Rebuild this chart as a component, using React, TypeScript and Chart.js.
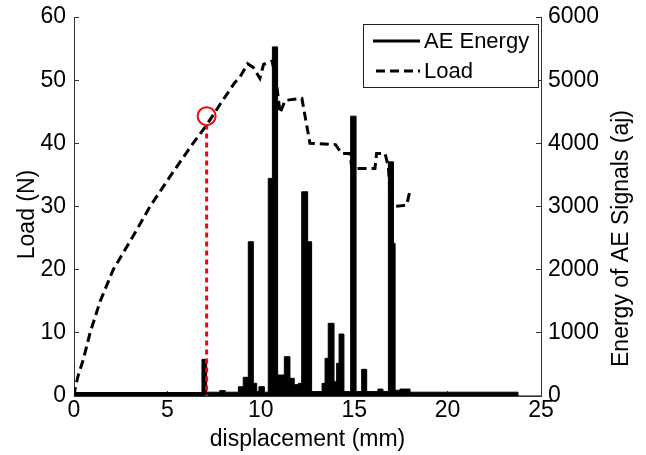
import React, { useEffect, useRef } from "react";
import { Chart, registerables } from "chart.js";

Chart.register(...registerables);

// ---- tick values ----
const xTicks = [0, 5, 10, 15, 20, 25];
const loadTicks = [0, 10, 20, 30, 40, 50, 60];
const energyTicks = [0, 1000, 2000, 3000, 4000, 5000, 6000];

// ---- titles / labels ----
const xTitle = "displacement (mm)";
const loadTitle = "Load (N)";
const energyTitle = "Energy of AE Signals (aj)";
const energyName = "AE Energy";
const loadName = "Load";

// ---- Load curve (displacement mm, load N) ----
const loadX = [0, 0.05, 0.2, 0.5, 0.86, 1.4, 2.1, 2.9, 3.3, 4.07, 5.2, 6.37, 7.1, 7.85, 8.6, 8.89, 9.3, 9.6, 9.95, 10.15, 10.6, 10.8, 11.03, 11.3, 12.2, 12.63, 14.0, 14.33, 14.78, 14.87, 16.11, 16.2, 16.65, 16.83, 16.92, 17.08, 17.81, 17.99];
const loadY = [0, 1, 3, 5.8, 10, 15, 20, 24, 26, 30, 35, 40, 42.9, 46.3, 49.6, 50.5, 52.6, 52.0, 50.3, 52.5, 53.0, 50.5, 44.8, 46.8, 47.1, 40.0, 39.8, 38.4, 38.4, 36.0, 36.0, 38.4, 38.4, 36.3, 32.3, 30.0, 30.2, 32.6];

// ---- AE energy histogram (start of each bin in mm, energy aj) ----
const energyX = [0, 0.1, 6.85, 7.1, 7.8, 8.1, 8.8, 9.06, 9.33, 9.6, 9.78, 9.9, 10.19, 10.4, 10.62, 10.9, 11.26, 11.56, 11.79, 12.01, 12.19, 12.51, 12.72, 13.28, 13.44, 13.61, 13.92, 14.06, 14.19, 14.45, 14.81, 15.1, 15.4, 15.67, 16.27, 16.54, 16.83, 17.1, 17.19, 17.45, 17.99, 23.77, 25];
const energyY = [30, 55, 580, 60, 85, 60, 147, 296, 2442, 200, 70, 147, 60, 3445, 5527, 332, 622, 280, 180, 200, 3233, 2442, 70, 200, 596, 1150, 226, 517, 981, 70, 4430, 70, 422, 70, 110, 70, 3707, 2416, 90, 110, 60, 0, 0];

// ---- red marker (circle on the load curve + vertical guide) ----
const markerX = [7.1];
const markerY = [44.3];
const guideX = [7.1, 7.1];
const guideY = [43, 0];

const FONT = '"Liberation Sans", Arial, Helvetica, sans-serif';
const AXIS_COLOR = "#333";
const TICK_SIZE = 23;

const legendBoxPlugin = {
  id: "legendBox",
  afterDatasetsDraw(chart: any) {
    const { ctx, chartArea } = chart;
    const w = 176;
    const h = 64;
    const right = chartArea.right - 2;
    const top = chartArea.top + 7;
    const left = right - w;
    ctx.save();
    ctx.fillStyle = "#fff";
    ctx.fillRect(left, top, w, h);
    ctx.strokeStyle = "#222";
    ctx.lineWidth = 1;
    ctx.setLineDash([]);
    ctx.strokeRect(left + 0.5, top + 0.5, w - 1, h - 1);
    const items = chart.data.datasets.filter((d: any) => d.inLegend);
    items.sort((a: any, b: any) => a.legendOrder - b.legendOrder);
    items.forEach((ds: any, i: number) => {
      const y = top + 17 + i * 30;
      ctx.strokeStyle = "#000";
      ctx.lineWidth = 3;
      ctx.lineCap = "butt";
      const dash = ds.borderDash || [];
      ctx.setLineDash(dash);
      ctx.beginPath();
      ctx.moveTo(left + (dash.length ? 13 : 10), y);
      ctx.lineTo(left + 57, y);
      ctx.stroke();
      ctx.setLineDash([]);
      ctx.fillStyle = "#000";
      ctx.font = `22px ${FONT}`;
      ctx.textBaseline = "middle";
      ctx.textAlign = "left";
      ctx.fillText(ds.label, left + 61, y + 1);
    });
    ctx.restore();
  },
};

// vertical axis titles, both reading bottom-to-top (as in the reference)
const yTitlesPlugin = {
  id: "yTitles",
  afterDraw(chart: any) {
    const { ctx, chartArea } = chart;
    const mid = (chartArea.top + chartArea.bottom) / 2;
    const items = [
      { scale: chart.scales.y, x: chart.scales.y.left + 28, y: mid + 8, text: loadTitle },
      { scale: chart.scales.y1, x: chart.scales.y1.right - 24, y: mid + 32, text: energyTitle },
    ];
    ctx.save();
    ctx.fillStyle = "#000";
    ctx.font = `${TICK_SIZE}px ${FONT}`;
    ctx.textAlign = "center";
    ctx.textBaseline = "middle";
    items.forEach((it) => {
      ctx.save();
      ctx.translate(it.x, it.y);
      ctx.rotate(-Math.PI / 2);
      ctx.fillText(it.text, 0, 0);
      ctx.restore();
    });
    ctx.restore();
  },
};

const fitVertical = (width: number) => (s: any) => {
  s.width = width;
  s.paddingTop = 0;
  s.paddingBottom = 0;
};

export default function App() {
  const ref = useRef<HTMLCanvasElement | null>(null);

  useEffect(() => {
    if (!ref.current) return;
    const chart = new Chart(ref.current, {
      type: "line",
      data: {
        datasets: [
          {
            label: "marker",
            data: markerX.map((x, i) => ({ x, y: markerY[i] })),
            yAxisID: "y",
            showLine: false,
            pointRadius: 9,
            pointBorderWidth: 2,
            pointBorderColor: "#ff0000",
            pointBackgroundColor: "rgba(0,0,0,0)",
            borderColor: "#ff0000",
          } as any,
          {
            label: "guide",
            data: guideX.map((x, i) => ({ x, y: guideY[i] })),
            yAxisID: "y",
            borderColor: "#ff0000",
            borderWidth: 3,
            borderDash: [5, 4],
            pointRadius: 0,
          } as any,
          {
            label: loadName,
            inLegend: true,
            legendOrder: 2,
            data: loadX.map((x, i) => ({ x, y: loadY[i] })),
            yAxisID: "y",
            borderColor: "#000",
            borderWidth: 3,
            borderDash: [9, 5],
            borderCapStyle: "butt",
            pointRadius: 0,
            tension: 0,
            fill: false,
          } as any,
          {
            label: energyName,
            inLegend: true,
            legendOrder: 1,
            data: energyX.map((x, i) => ({ x, y: energyY[i] })),
            yAxisID: "y1",
            borderColor: "#000",
            backgroundColor: "#000",
            borderWidth: 1,
            stepped: "before",
            pointRadius: 0,
            fill: "origin",
          } as any,
        ],
      },
      options: {
        animation: false,
        responsive: false,
        events: [],
        layout: { padding: { top: 17, left: 0, right: 0, bottom: 0 } },
        plugins: {
          legend: { display: false },
          tooltip: { enabled: false },
        },
        scales: {
          x: {
            type: "linear",
            position: "bottom",
            min: 0,
            max: 25,
            afterBuildTicks: (s: any) => {
              s.ticks = xTicks.map((v) => ({ value: v }));
            },
            afterFit: (s: any) => {
              s.height = 59;
              s.paddingLeft = 0;
              s.paddingRight = 0;
            },
            ticks: {
              color: "#000",
              font: { family: FONT, size: TICK_SIZE },
              padding: 6,
              maxRotation: 0,
              autoSkip: false,
              callback: (v: any) => String(v),
            },
            grid: { drawOnChartArea: false, drawTicks: true, tickLength: -5, color: AXIS_COLOR },
            border: { display: true, color: AXIS_COLOR, width: 1 },
            title: {
              display: true,
              text: xTitle,
              color: "#000",
              font: { family: FONT, size: TICK_SIZE },
              padding: { top: 0, bottom: 2 },
            },
          },
          y: {
            type: "linear",
            position: "left",
            min: 0,
            max: 60,
            afterBuildTicks: (s: any) => {
              s.ticks = loadTicks.map((v) => ({ value: v }));
            },
            afterFit: fitVertical(74),
            ticks: {
              color: "#000",
              font: { family: FONT, size: TICK_SIZE },
              padding: 13,
              autoSkip: false,
              callback: (v: any) => String(v),
            },
            grid: { drawOnChartArea: false, drawTicks: true, tickLength: -5, color: AXIS_COLOR },
            border: { display: true, color: AXIS_COLOR, width: 1 },
            title: { display: false },
          },
          y1: {
            type: "linear",
            position: "right",
            min: 0,
            max: 6000,
            afterBuildTicks: (s: any) => {
              s.ticks = energyTicks.map((v) => ({ value: v }));
            },
            afterFit: fitVertical(105),
            ticks: {
              color: "#000",
              font: { family: FONT, size: TICK_SIZE },
              padding: 12,
              autoSkip: false,
              callback: (v: any) => String(v),
            },
            grid: { drawOnChartArea: false, drawTicks: true, tickLength: -5, color: AXIS_COLOR },
            border: { display: true, color: AXIS_COLOR, width: 1 },
            title: { display: false },
          },
        },
      } as any,
      plugins: [legendBoxPlugin, yTitlesPlugin],
    });
    return () => chart.destroy();
  }, []);

  return (
    <div style={{ position: "fixed", left: 0, top: 0, width: 646, height: 455, background: "#fff" }}>
      <canvas ref={ref} width={646} height={455} style={{ width: 646, height: 455, display: "block" }} />
    </div>
  );
}
